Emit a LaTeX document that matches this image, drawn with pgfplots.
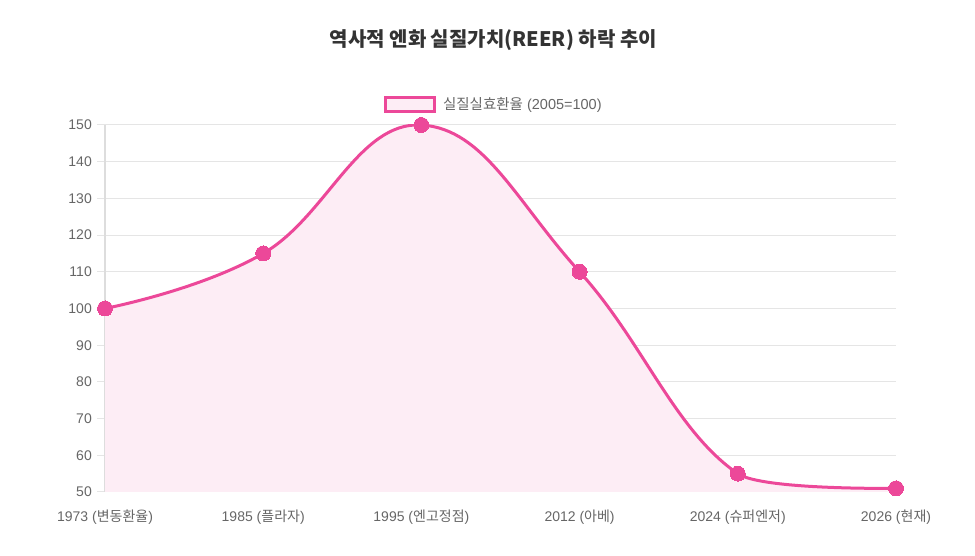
\documentclass[border=0pt]{standalone}
\usepackage{pgfplots}
\pgfplotsset{compat=1.18}
\usepackage{fontspec}
\setmainfont{Liberation Sans}
\newfontfamily\kr{Noto Sans CJK KR}
\definecolor{pinkline}{HTML}{EC4899}
\definecolor{pinkfill}{HTML}{FDEDF5}
\definecolor{gridc}{HTML}{E5E5E5}
\definecolor{axisc}{HTML}{DDDDDD}
\definecolor{tickc}{HTML}{666666}
\definecolor{titlec}{HTML}{333333}
\begin{document}
\begin{tikzpicture}[x=1pt,y=1pt]
\path[use as bounding box] (0,0) rectangle (975,556);
\begin{axis}[
  at={(105pt,64pt)}, anchor=south west,
  scale only axis, width=791pt, height=367pt,
  xmin=0, xmax=5, ymin=50, ymax=150,
  axis lines*=left,
  axis line style={draw=axisc, line width=1pt},
  xtick={0,1,2,3,4,5},
  xticklabels={{1973 ({\kr 변동환율})},{1985 ({\kr 플라자})},{1995 ({\kr 엔고정점})},{2012 ({\kr 아베})},{2024 ({\kr 슈퍼엔저})},{2026 ({\kr 현재})}},
  ytick={50,60,...,150},
  ymajorgrids,
  grid style={draw=gridc, line width=1pt},
  tick align=outside,
  major tick length=8pt,
  xtick style={draw=none},
  ytick style={draw=gridc, line width=1pt},
  /pgf/number format/assume math mode=true,
  tick label style={font=\fontsize{14}{16}\selectfont, text=tickc},
  yticklabel style={anchor=east, inner sep=0pt, xshift=-5pt},
  xticklabel style={anchor=base, inner sep=0pt, yshift=-22pt},
  title={\kr\bfseries 역사적 엔화 실질가치(REER) 하락 추이},
  title style={at={(0.491,1)}, anchor=center, yshift=79pt, font=\fontsize{20}{23}\selectfont, text=titlec},
  legend style={at={(0.3521,1.0559)}, anchor=west, draw=none, fill=none, inner sep=0pt, outer sep=0pt,
    font=\fontsize{14.5}{16}\selectfont, text=tickc, nodes={inner sep=0pt},
    /tikz/every odd column/.append style={column sep=7.5pt}},
  legend image code/.code={\draw[pinkline, line width=3pt, fill=pinkfill] (0pt,-7pt) rectangle (49pt,7pt);},
  clip mode=individual,
]
\begin{scope}
\clip (axis cs:-0.5,0) rectangle (axis cs:4.03,200);
\addplot[draw=none, fill=pinkfill, smooth, tension=0.72, forget plot] coordinates {(0,100) (1,115) (2,150) (3,110) (4,55) (5,51)} \closedcycle;
\end{scope}
\begin{scope}
\clip (axis cs:3.97,0) rectangle (axis cs:5.5,200);
\addplot[draw=none, fill=pinkfill, smooth, tension=0.275, forget plot] coordinates {(3,110) (4,55) (5,51)} \closedcycle;
\end{scope}
\begin{scope}
\clip (axis cs:-0.5,0) rectangle (axis cs:4,200);
\addplot[pinkline, line width=3pt, smooth, tension=0.72, line join=round, forget plot] coordinates {(0,100) (1,115) (2,150) (3,110) (4,55) (5,51)};
\end{scope}
\begin{scope}
\clip (axis cs:4,0) rectangle (axis cs:5.5,200);
\addplot[pinkline, line width=3pt, smooth, tension=0.275, line join=round, forget plot] coordinates {(3,110) (4,55) (5,51)};
\end{scope}
\addplot[only marks, mark=*, mark size=7.5pt, mark options={draw=pinkline, fill=pinkline, line width=0pt}] coordinates {(0,100) (1,115) (2,150) (3,110) (4,55) (5,51)};
\addlegendentry{{\kr 실질실효환율} (2005=100)}
\end{axis}
\end{tikzpicture}
\end{document}
